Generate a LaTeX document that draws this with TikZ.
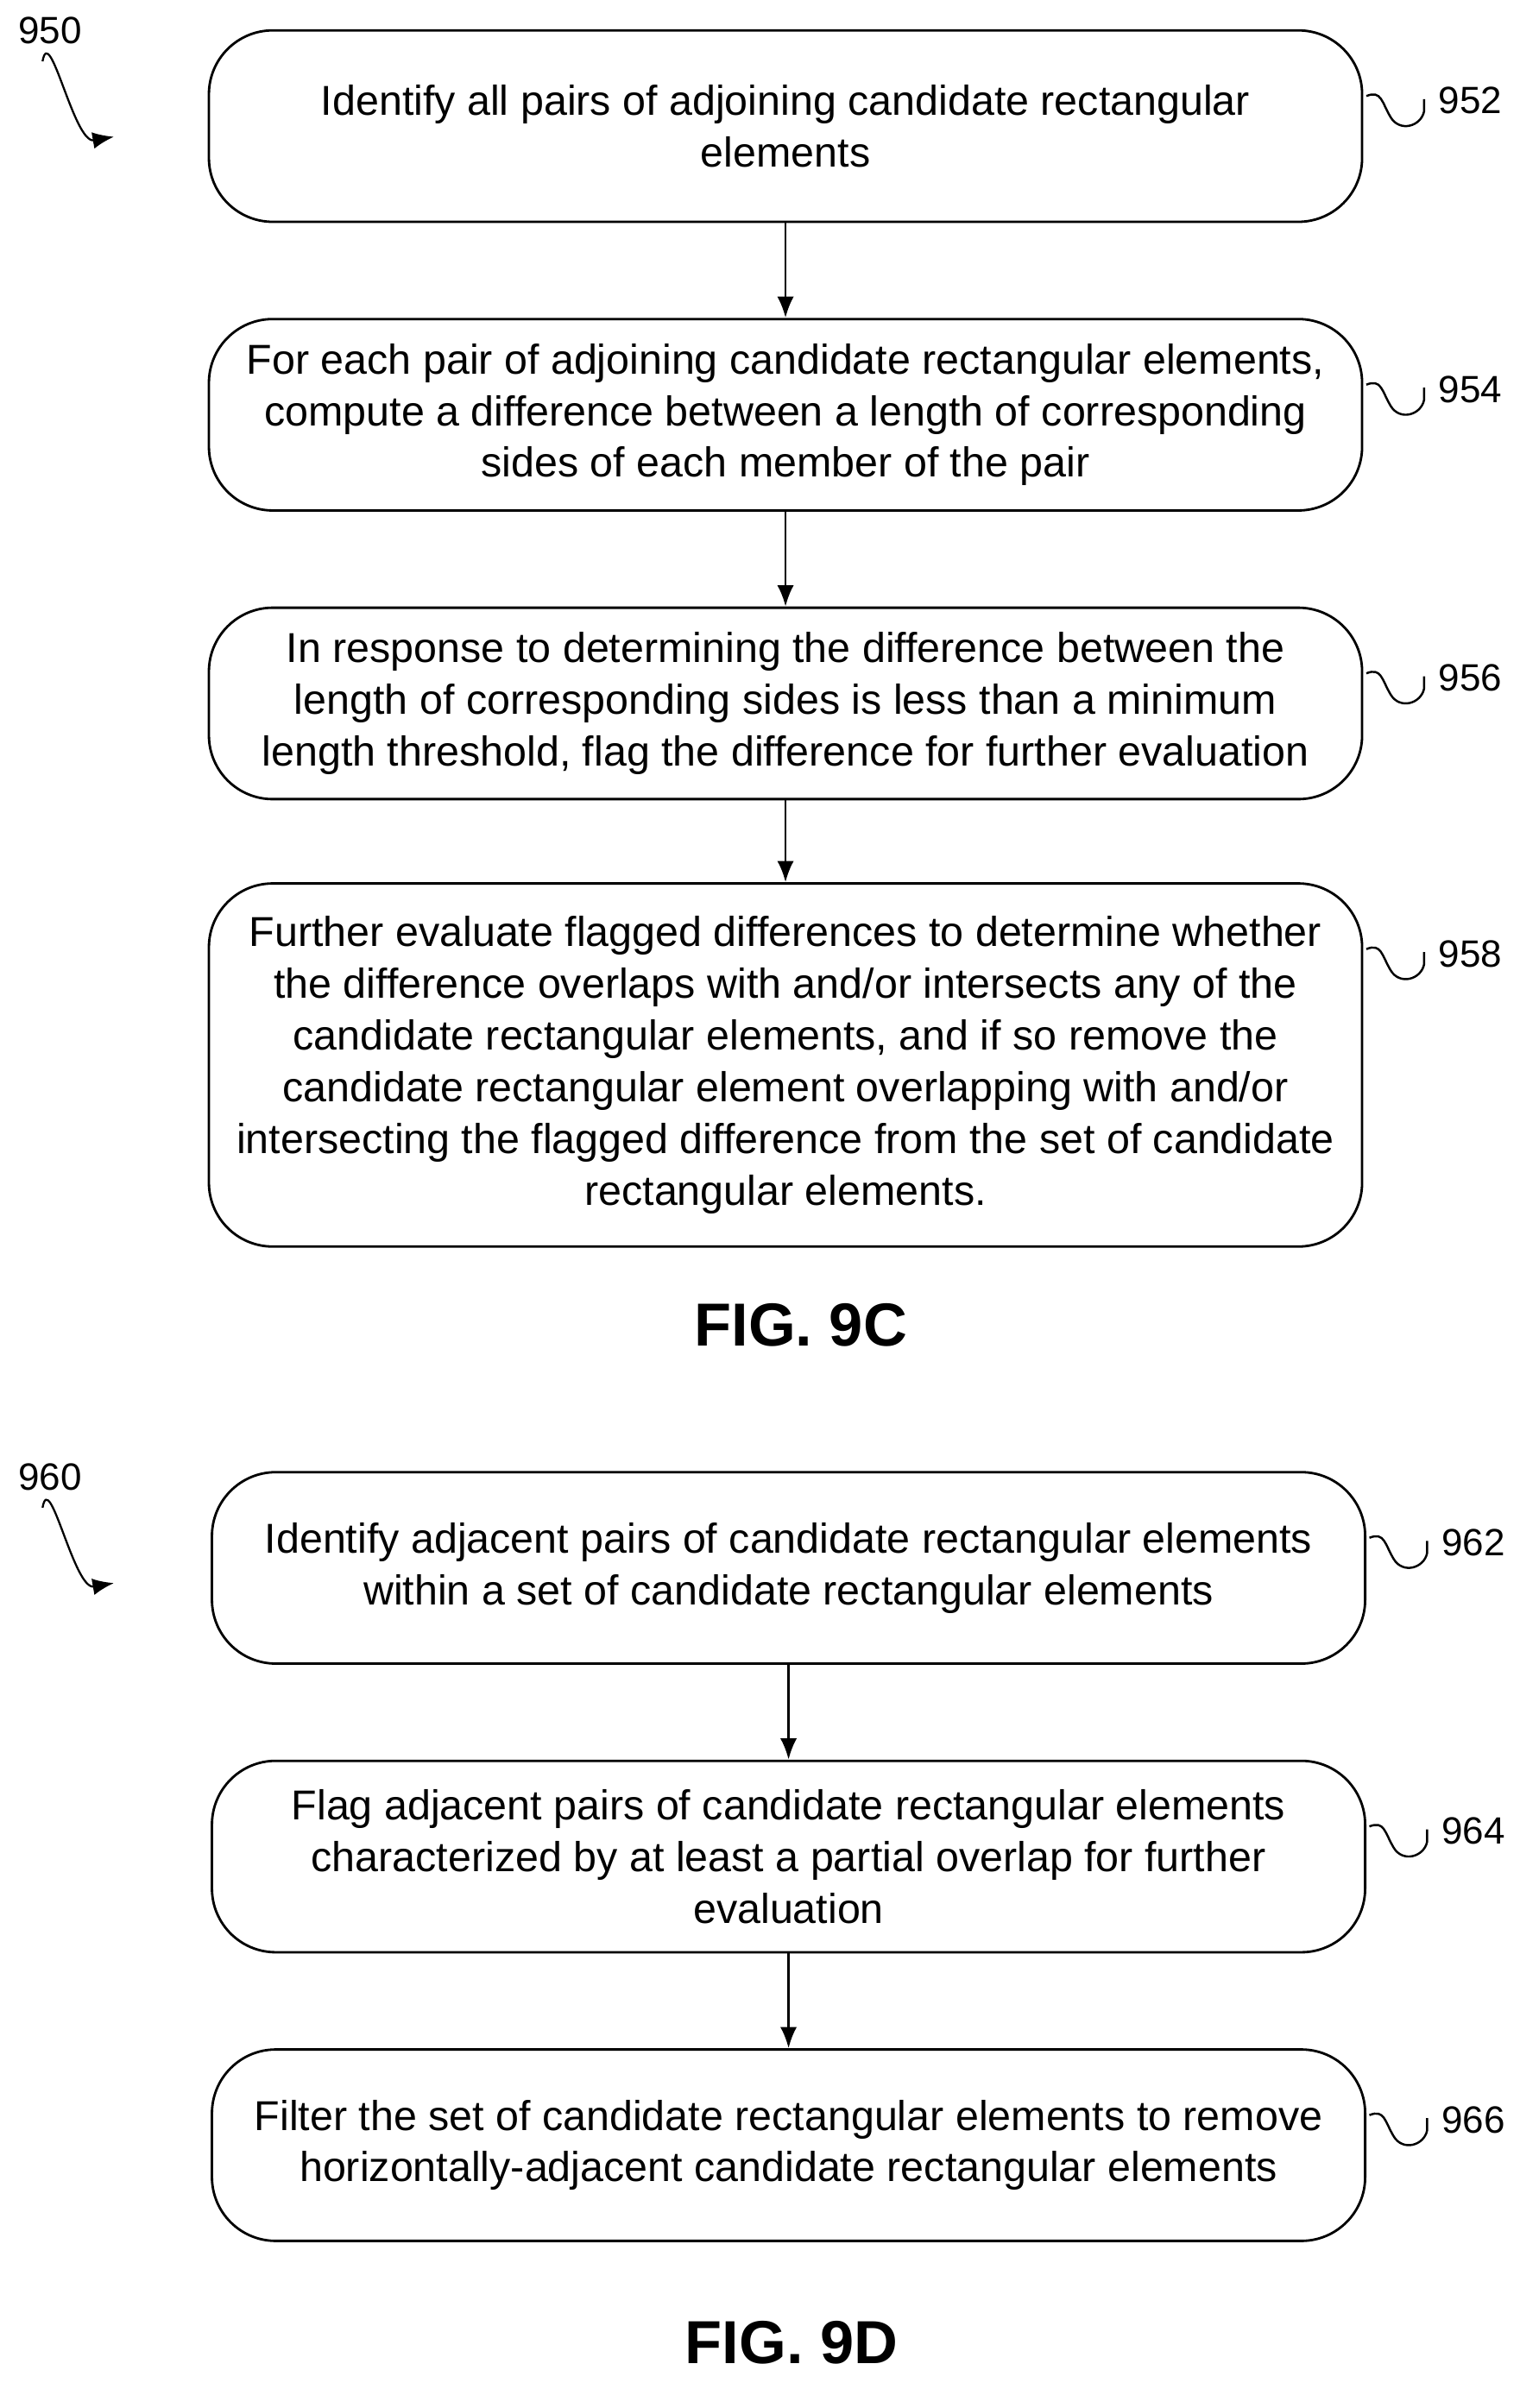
\documentclass[tikz,border=0pt]{standalone}
\usepackage{fontspec}
\setmainfont{Liberation Sans}
\usetikzlibrary{arrows.meta,calc}
\begin{document}
\begin{tikzpicture}[x=1pt,y=1pt,yscale=-1,
  flowbox/.style={draw,line width=1.6pt,rounded corners=42pt,minimum width=759pt,minimum height=126pt,align=center,inner sep=0pt,font=\fontsize{27.5}{34}\selectfont},
  flow/.style={line width=1.6pt,-{Latex[length=14pt,width=11pt]}},
  num/.style={font=\fontsize{25}{28}\selectfont},
  fig/.style={font=\bfseries\fontsize{40}{44}\selectfont}]
  \useasboundingbox (0,0) rectangle (1000,1585);
  % squiggle to reference number
  \newcommand{\refsq}[3]{%
    \coordinate (#1s) at ($(#1.north east)+(2,44)$);
    \draw[line width=1.4pt] (#1s) .. controls +(10,-4) and +(-6,-10) .. ++(16,14) .. controls +(6,10) and +(-2,10) .. ++(22,-4) -- ++(0,-8);
    \node[num,anchor=west] (#2) at ($(#1.north east)+(46,47)$) {#3};}
  % FIG. 9C
  \node[num] (l950) at (33,20) {950};
  \coordinate (a950) at (75,90);
  \draw[flow,line width=1.3pt] (l950.south) ++(-5,8) to[out=-80,in=170] (a950);
  \node[flowbox] (s952) at (517,83) {Identify all pairs of adjoining candidate rectangular\\elements};
  \node[flowbox] (s954) at (517,273) {For each pair of adjoining candidate rectangular elements,\\compute a difference between a length of corresponding\\sides of each member of the pair};
  \node[flowbox] (s956) at (517,463) {In response to determining the difference between the\\length of corresponding sides is less than a minimum\\length threshold, flag the difference for further evaluation};
  \node[flowbox,minimum height=239pt] (s958) at (517,701) {Further evaluate flagged differences to determine whether\\the difference overlaps with and/or intersects any of the\\candidate rectangular elements, and if so remove the\\candidate rectangular element overlapping with and/or\\intersecting the flagged difference from the set of candidate\\rectangular elements.};
  \draw[flow] (s952) -- (s954);
  \draw[flow] (s954) -- (s956);
  \draw[flow] (s956) -- (s958);
  \node[fig] (f9c) at (527,872) {FIG. 9C};
  % FIG. 9D
  \node[num] (l960) at (33,972) {960};
  \coordinate (a960) at (75,1042);
  \draw[flow,line width=1.3pt] (l960.south) ++(-5,8) to[out=-80,in=170] (a960);
  \node[flowbox] (s962) at (519,1032) {Identify adjacent pairs of candidate rectangular elements\\within a set of candidate rectangular elements};
  \node[flowbox] (s964) at (519,1222) {Flag adjacent pairs of candidate rectangular elements\\characterized by at least a partial overlap for further\\evaluation};
  \node[flowbox] (s966) at (519,1412) {Filter the set of candidate rectangular elements to remove\\horizontally-adjacent candidate rectangular elements};
  \draw[flow] (s962) -- (s964);
  \draw[flow] (s964) -- (s966);
  \node[fig] (f9d) at (521,1542) {FIG. 9D};
  \refsq{s952}{n952}{952}
  \refsq{s954}{n954}{954}
  \refsq{s956}{n956}{956}
  \refsq{s958}{n958}{958}
  \refsq{s962}{n962}{962}
  \refsq{s964}{n964}{964}
  \refsq{s966}{n966}{966}
\end{tikzpicture}
\end{document}
